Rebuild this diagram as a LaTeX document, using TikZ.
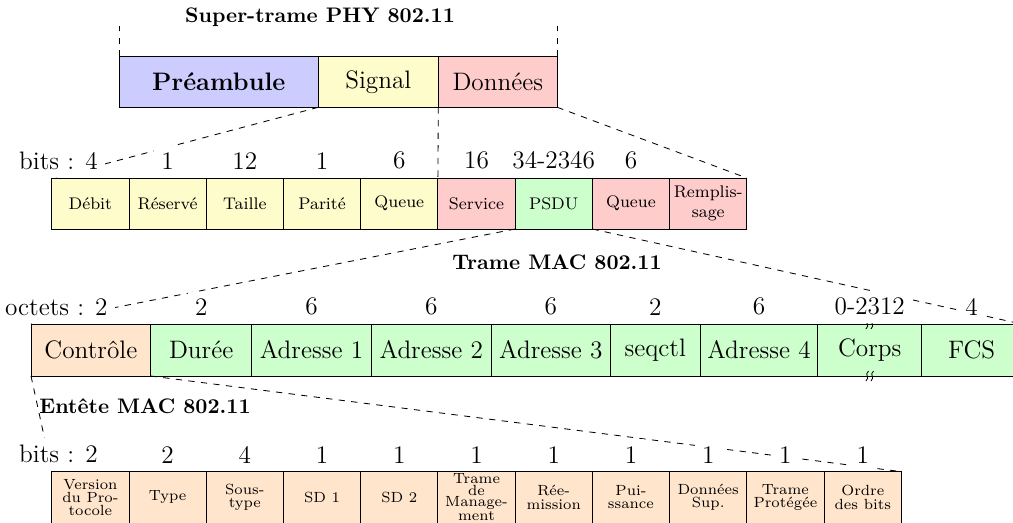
\documentclass[tikz,border=0pt]{standalone}
\usepackage{tikz}
\usetikzlibrary{calc}

\tikzset{
	field/.style={draw, inner sep=0pt, outer sep=0pt, align=center, anchor=north west},
	num/.style={font=\large, fill=white, anchor=south, yshift=0.5pt},
	ttl/.style={font=\bfseries},
	phyfld/.style={font=\large},
	plcpfld/.style={font=\footnotesize},
	macfld/.style={font=\large},
	hdrfld/.style={font=\fontsize{7}{6.3}\selectfont},
	cblue/.style={fill=blue!20},
	cyel/.style={fill=yellow!20},
	cred/.style={fill=red!20},
	cgrn/.style={fill=green!20},
	corg/.style={fill=orange!20}
}
% field box: [style](name)(x1:x2:y1:y2){text}, in pixels of the page
\def\fld[#1](#2)(#3:#4:#5:#6)#7{\pgfmathsetmacro\fldw{(#4-#3)*0.475}\pgfmathsetmacro\fldh{(#6-#5)*0.475}\node[field,#1,minimum width=\fldw pt,minimum height=\fldh pt] (#2) at (#3,#5) {#7};}

\begin{document}
\begin{tikzpicture}[x=0.475pt, y=-0.475pt]
			%%%%% START %%%%%
			\useasboundingbox (0,0) rectangle (1013,522);
			\clip (0,0) rectangle (1013,522);
			
			% PHY super-frame
			\fld[phyfld,cblue,font=\large\bfseries](pre)(119.3:318.3:56.7:107.3){Préambule}
			\fld[phyfld,cyel](sig)(318.3:438.3:56.7:107.3){Signal}
			\fld[phyfld,cred](don)(438.3:557.3:56.7:107.3){Données}
			\node[ttl] (t-phy) at (320,17) {Super-trame PHY 802.11};
			
			% PLCP fields
			\fld[plcpfld,cyel](deb)(51.8:129:178:229){Débit}
			\fld[plcpfld,cyel](res)(129:206.2:178:229){Réservé}
			\fld[plcpfld,cyel](tai)(206.2:283.5:178:229){Taille}
			\fld[plcpfld,cyel](par)(283.5:360.7:178:229){Parité}
			\fld[plcpfld,cyel](que)(360.7:437.9:178:229){Queue}
			\fld[plcpfld,cred](ser)(437.9:515.1:178:229){Service}
			\fld[plcpfld,cgrn](psdu)(515.1:592.3:178:229){PSDU}
			\fld[plcpfld,cred](qu2)(592.3:669.6:178:229){Queue}
			\fld[plcpfld,cred](rem)(669.6:746.8:178:229){Remplis-\\sage}
			
			% MAC frame
			\fld[macfld,corg](ctl)(31:150.7:324:376){Contrôle}
			\fld[macfld,cgrn](dur)(150.7:251.7:324:376){Durée}
			\fld[macfld,cgrn](ad1)(251.7:371.3:324:376){Adresse 1}
			\fld[macfld,cgrn](ad2)(371.3:491.3:324:376){Adresse 2}
			\fld[macfld,cgrn](ad3)(491.3:610.3:324:376){Adresse 3}
			\fld[macfld,cgrn](seq)(610.3:700.3:324:376){seqctl}
			\fld[macfld,cgrn](ad4)(700.3:817.7:324:376){Adresse 4}
			\fld[macfld,cgrn](corps)(817.7:921.7:324:376){Corps}
			\fld[macfld,cgrn](fcs)(921.7:1021.5:324:376){FCS}
			\node[ttl] (t-mac) at (557,262) {Trame MAC 802.11};
			
			% skipped length marks on the body
			\foreach \cx in {867.2,872.2} {
				\foreach \cy in {324,376} {
					\draw (\cx+1.3,\cy-5) .. controls (\cx-3.5,\cy-1) and (\cx+3.5,\cy+1) .. (\cx-1.3,\cy+5);
				}
			}
			
			% MAC header control field
			\fld[hdrfld,corg](ver)(51.8:129:471.7:523){Version\\du Pro-\\tocole}
			\fld[hdrfld,corg](typ)(129:206.2:471.7:523){Type}
			\fld[hdrfld,corg](sty)(206.2:283.5:471.7:523){Sous-\\type}
			\fld[hdrfld,corg](sd1)(283.5:360.7:471.7:523){SD 1}
			\fld[hdrfld,corg](sd2)(360.7:437.9:471.7:523){SD 2}
			\fld[hdrfld,corg,font=\fontsize{7}{5.5}\selectfont](mgt)(437.9:515.1:471.7:523){Trame\\de\\Manage-\\ment}
			\fld[hdrfld,corg](ree)(515.1:592.3:471.7:523){Rée-\\mission}
			\fld[hdrfld,corg](pui)(592.3:669.6:471.7:523){Pui-\\ssance}
			\fld[hdrfld,corg](dsup)(669.6:746.8:471.7:523){Données\\Sup.}
			\fld[hdrfld,corg](prot)(746.8:824:471.7:523){Trame\\Protégée}
			\fld[hdrfld,corg](ord)(824:901.7:471.7:523){Ordre\\des bits}
			\node[ttl, anchor=west] (t-hdr) at (32,406) {Entête MAC 802.11};
			
			% zoom lines
			\draw[dashed] (pre.north west) -- ++(0,-30.7);
			\draw[dashed] (don.north east) -- ++(0,-30.7);
			\draw[dashed] (sig.south west) -- (deb.north west);
			\draw[dashed] (don.south west) -- (ser.north west);
			\draw[dashed] (don.south east) -- (rem.north east);
			\draw[dashed] (psdu.south west) -- (ctl.north west);
			\draw[dashed] (psdu.south east) -- (fcs.north east);
			\draw[dashed] (ctl.south west) -- (ver.north west);
			\draw[dashed] (ctl.south east) -- (ord.north east);
			
			% sizes
			\node[num, anchor=south east] (n-deb) at ([xshift=7pt]deb.north) {bits : 4};
			\foreach \f/\v in {res/1, tai/12, par/1, que/6, ser/16, psdu/34-2346, qu2/6}
				\node[num] (n-\f) at (\f.north) {\v};
			\node[num, anchor=south east] (n-ctl) at ([xshift=11.5pt]ctl.north) {octets : 2};
			\foreach \f/\v in {dur/2, ad1/6, ad2/6, ad3/6, seq/2, ad4/6, corps/0-2312, fcs/4}
				\node[num] (n-\f) at (\f.north) {\v};
			\node[num, anchor=south east] (n-ver) at ([xshift=7pt]ver.north) {bits : 2};
			\foreach \f/\v in {typ/2, sty/4, sd1/1, sd2/1, mgt/1, ree/1, pui/1, dsup/1, prot/1, ord/1}
				\node[num] (n-\f) at (\f.north) {\v};
			%%%%% END %%%%%
		\end{tikzpicture}
\end{document}
